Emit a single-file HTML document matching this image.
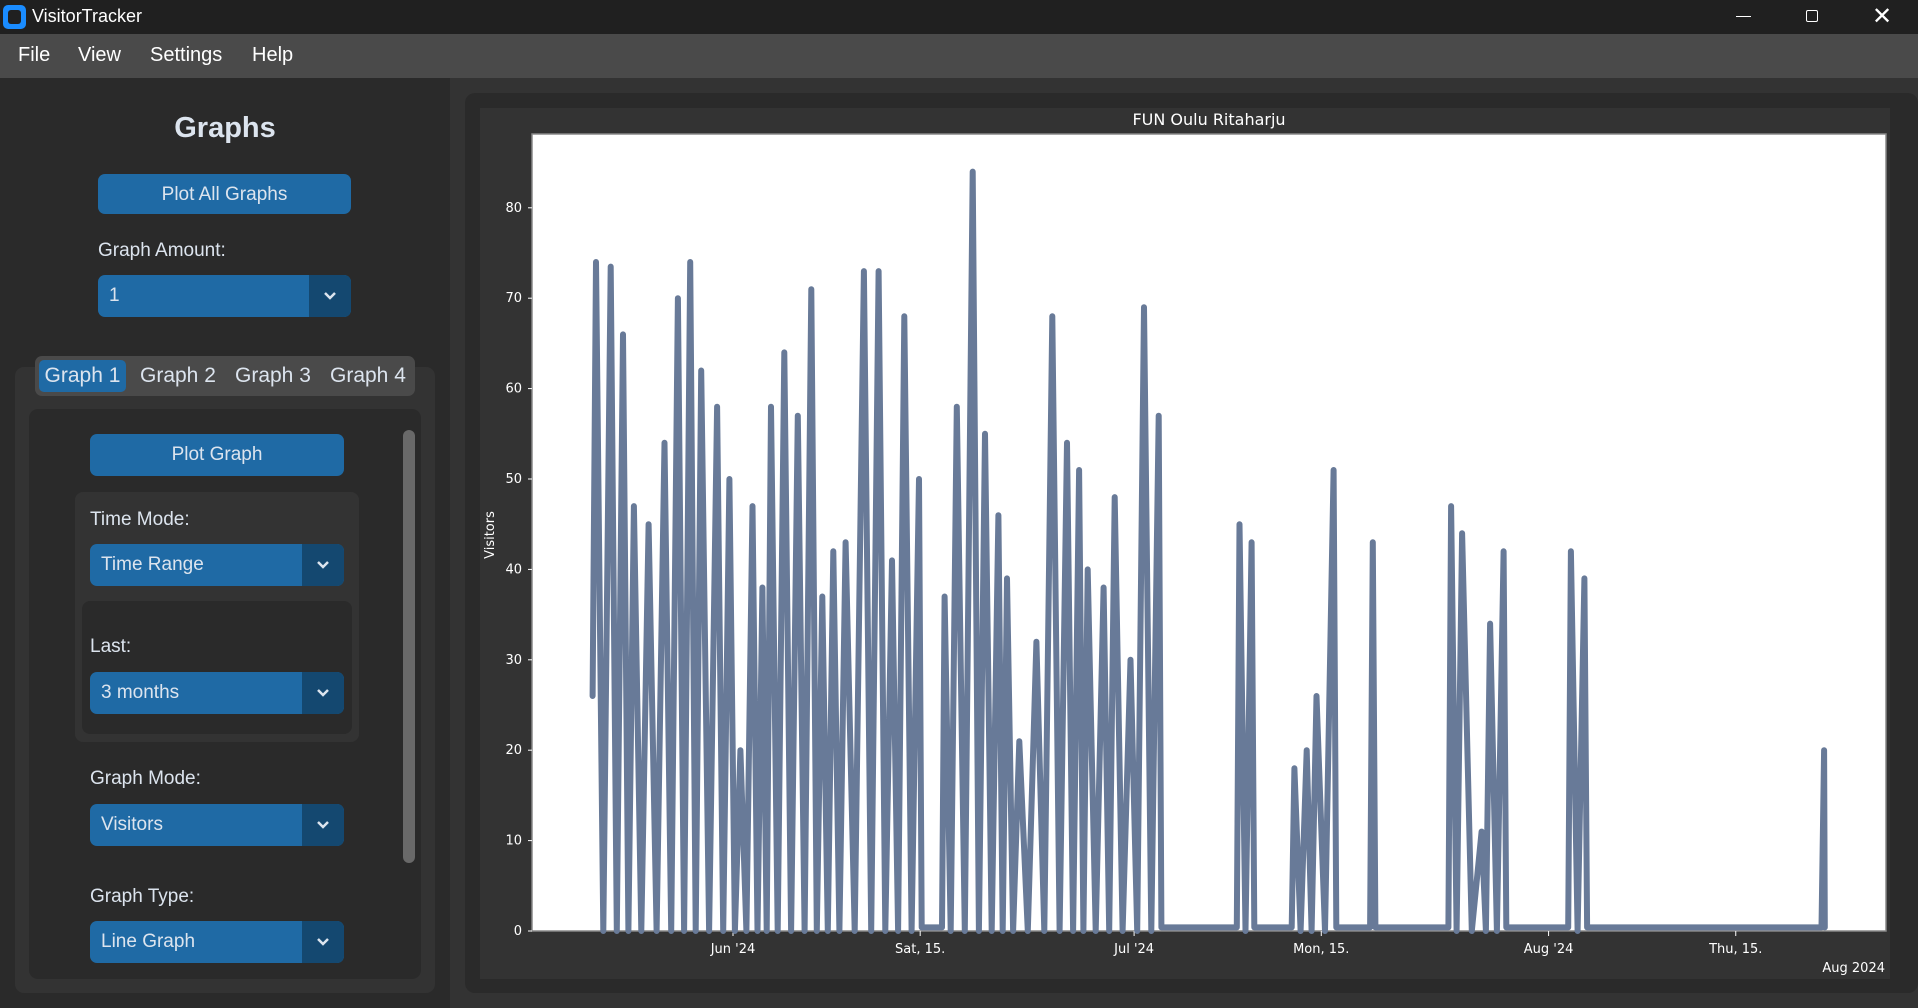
<!DOCTYPE html>
<html><head><meta charset="utf-8">
<style>
*{box-sizing:border-box;margin:0;padding:0}
body{width:1918px;height:1008px;overflow:hidden;background:#333;font-family:"Liberation Sans",sans-serif;color:#dce4ee;position:relative}
.abs{position:absolute}
.btn{position:absolute;background:#1f6aa5;border-radius:7px;color:#dce4ee;font-size:19px;text-align:center;line-height:42px}
.dd{position:absolute;background:#1f6aa5;border-radius:7px;color:#dce4ee;font-size:19px;padding-left:11px;overflow:hidden;line-height:42px;height:42px}
.dd .arr{position:absolute;right:0;top:0;width:42px;height:100%;background:#144870}
.dd .arr svg{position:absolute;left:15px;top:17px}
.lbl{position:absolute;font-size:19px;color:#dce4ee}
</style></head><body>
<div class="abs" style="left:0;top:0;width:1918px;height:34px;background:#202020">
  <div class="abs" style="left:3px;top:5px;width:23px;height:24px;border-radius:5px;background:#1a8cff"><div style="position:absolute;left:5px;top:5px;width:13px;height:14px;border-radius:3px;background:#202020"></div></div>
  <div class="abs" style="left:32px;top:6px;font-size:18px;color:#fff">VisitorTracker</div>
  <div class="abs" style="left:1736px;top:16px;width:15px;height:1px;background:#fff"></div>
  <div class="abs" style="left:1806px;top:10px;width:12px;height:12px;border:1px solid #fff;border-radius:2px"></div>
  <div class="abs" style="left:1872px;top:2px;font-size:24px;color:#fff">✕</div>
</div>
<div class="abs" style="left:0;top:34px;width:1918px;height:44px;background:#4a4a4a;font-size:20px;color:#fff">
  <span class="abs" style="left:18px;top:10px">File</span>
  <span class="abs" style="left:78px;top:10px">View</span>
  <span class="abs" style="left:150px;top:10px">Settings</span>
  <span class="abs" style="left:252px;top:10px">Help</span>
</div>
<div class="abs" style="left:0;top:78px;width:450px;height:930px;background:#2a2a2a"></div>
<div class="abs" style="left:0;top:112px;width:450px;text-align:center;font-size:29px;font-weight:bold">Graphs</div>
<div class="btn" style="left:98px;top:174px;width:253px;height:40px">Plot All Graphs</div>
<div class="lbl" style="left:98px;top:240px">Graph Amount:</div>
<div class="dd" style="left:98px;top:275px;width:253px">1<div class="arr"><svg width="12" height="8"><polyline points="1,1 6,6 11,1" fill="none" stroke="#dce4ee" stroke-width="2.5"/></svg></div></div>
<div class="abs" style="left:15px;top:367px;width:420px;height:626px;background:#333;border-radius:9px"></div>
<div class="abs" style="left:35px;top:356px;width:380px;height:40px;background:#4a4a4a;border-radius:7px;font-size:21px">
  <div class="abs" style="left:4px;top:4px;width:87px;height:32px;background:#1f6aa5;border-radius:5px;text-align:center;line-height:32px">Graph 1</div>
  <div class="abs" style="left:105px;top:4px;line-height:32px">Graph 2</div>
  <div class="abs" style="left:200px;top:4px;line-height:32px">Graph 3</div>
  <div class="abs" style="left:295px;top:4px;line-height:32px">Graph 4</div>
</div>
<div class="abs" style="left:29px;top:409px;width:392px;height:570px;background:#2a2a2a;border-radius:9px"></div>
<div class="abs" style="left:403px;top:430px;width:12px;height:433px;background:#696969;border-radius:6px"></div>
<div class="btn" style="left:90px;top:434px;width:254px;height:42px">Plot Graph</div>
<div class="abs" style="left:75px;top:492px;width:284px;height:250px;background:#333;border-radius:8px"></div>
<div class="lbl" style="left:90px;top:509px">Time Mode:</div>
<div class="dd" style="left:90px;top:544px;width:254px">Time Range<div class="arr"><svg width="12" height="8"><polyline points="1,1 6,6 11,1" fill="none" stroke="#dce4ee" stroke-width="2.5"/></svg></div></div>
<div class="abs" style="left:82px;top:601px;width:270px;height:133px;background:#2a2a2a;border-radius:8px"></div>
<div class="lbl" style="left:90px;top:636px">Last:</div>
<div class="dd" style="left:90px;top:672px;width:254px">3 months<div class="arr"><svg width="12" height="8"><polyline points="1,1 6,6 11,1" fill="none" stroke="#dce4ee" stroke-width="2.5"/></svg></div></div>
<div class="lbl" style="left:90px;top:768px">Graph Mode:</div>
<div class="dd" style="left:90px;top:804px;width:254px">Visitors<div class="arr"><svg width="12" height="8"><polyline points="1,1 6,6 11,1" fill="none" stroke="#dce4ee" stroke-width="2.5"/></svg></div></div>
<div class="lbl" style="left:90px;top:886px">Graph Type:</div>
<div class="dd" style="left:90px;top:921px;width:254px">Line Graph<div class="arr"><svg width="12" height="8"><polyline points="1,1 6,6 11,1" fill="none" stroke="#dce4ee" stroke-width="2.5"/></svg></div></div>

<div class="abs" style="left:465px;top:93px;width:1453px;height:900px;background:#2a2a2a;border-radius:10px"></div>
<svg class="abs" style="left:0;top:0" width="1918" height="1008" id="chart">
  <rect x="480" y="108" width="1410" height="871" fill="#333"/>
  <rect x="532" y="134" width="1354" height="797" fill="#fff" stroke="#888" stroke-width="1.5"/>
  <text x="1209" y="125" fill="#fff" font-size="16" text-anchor="middle" font-family="DejaVu Sans, sans-serif">FUN Oulu Ritaharju</text>
  <text transform="translate(494,535) rotate(-90)" fill="#fff" font-size="13" text-anchor="middle" font-family="DejaVu Sans, sans-serif">Visitors</text>
  <text x="1885" y="972" fill="#fff" font-size="13" text-anchor="end" font-family="DejaVu Sans, sans-serif">Aug 2024</text>
  <g id="axes"></g>
  <g id="plot"></g>
</svg>
<script>
const yTicks=[0,10,20,30,40,50,60,70,80];
const xTickDays=[0,14,30,44,61,75];
const xTickLabels=["Jun '24","Sat, 15.","Jul '24","Mon, 15.","Aug '24","Thu, 15."];
// days since Jun 1 2024
const peakDays=[-10.5,-10.25,-9.15,-8.23,-7.41,-6.31,-5.12,-4.12,-3.2,-2.38,-1.19,-0.27,0.55,1.46,2.2,2.84,3.84,4.85,5.86,6.68,7.5,8.42,9.79,10.89,11.89,12.81,13.91,15.83,16.74,17.93,18.85,19.85,20.49,21.41,22.69,23.88,24.98,25.89,26.53,27.72,28.55,29.73,30.74,31.84,37.88,38.79,41.99,42.91,43.64,44.92,47.85,53.71,54.53,55.99,56.63,57.64,62.67,63.68,81.61];
const peakValues=[26,74,73.5,66,47,45,54,70,74,62,58,50,20,47,38,58,64,57,71,37,42,43,73,73,41,68,50,37,58,84,55,46,39,21,32,68,54,51,40,38,48,30,69,57,45,43,18,20,26,51,43,47,44,11,34,42,42,39,20];
const X0=733,PXD=13.37,Y0=931,PXV=9.04;
const xs=d=>X0+d*PXD, ys=v=>Y0-v*PXV;
const NS="http://www.w3.org/2000/svg";
const axes=document.getElementById('axes'),plot=document.getElementById('plot');
function mk(t,a,p){const e=document.createElementNS(NS,t);for(const k in a)e.setAttribute(k,a[k]);p.appendChild(e);return e;}
yTicks.forEach(v=>{
  const l=mk('line',{x1:528,x2:532,y1:ys(v),y2:ys(v),stroke:'#fff'},axes);
  
  
  const t=mk('text',{x:522,y:ys(v)+4,fill:'#fff','font-size':13,'text-anchor':'end','font-family':'DejaVu Sans, sans-serif'},axes);
  t.textContent=v;
  
  
});
xTickDays.forEach((d,i)=>{
  const l=mk('line',{x1:xs(d),x2:xs(d),y1:931,y2:936,stroke:'#fff'},axes);
  
  
  const t=mk('text',{x:xs(d),y:953,fill:'#fff','font-size':13,'text-anchor':'middle','font-family':'DejaVu Sans, sans-serif'},axes);
  t.textContent=xTickLabels[i];
  
  
});
const pts=[];
for(let i=0;i<peakDays.length;i++){
  pts.push([peakDays[i],peakValues[i]]);
  if(i<peakDays.length-1){
    const g=peakDays[i+1]-peakDays[i];
    if(i===0){continue;}
    if(g<1.6){pts.push([(peakDays[i]+peakDays[i+1])/2,0]);}
    else{pts.push([peakDays[i]+0.2,0.4]);pts.push([peakDays[i+1]-0.2,0.4]);}
  }
}
pts.push([peakDays[peakDays.length-1]+0.05,0.4]);
const line=mk('polyline',{points:pts.map(p=>xs(p[0]).toFixed(1)+','+ys(p[1]).toFixed(1)).join(' '),fill:'none',stroke:'#687a98','stroke-width':6,'stroke-linejoin':'round','stroke-linecap':'round'},plot);


</script>
</body></html>
